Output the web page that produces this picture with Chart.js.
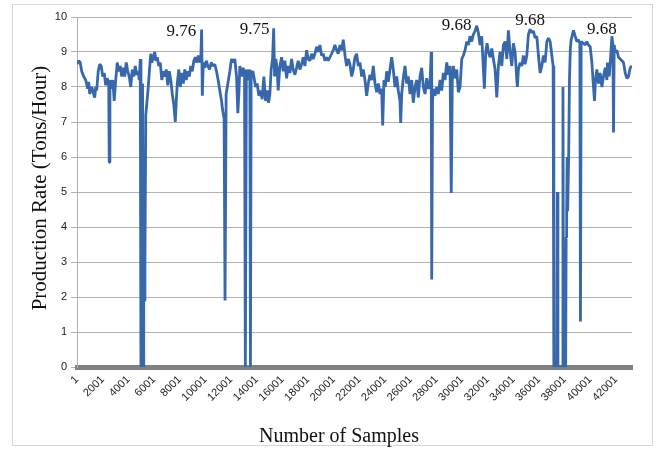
<!DOCTYPE html>
<html>
<head>
<meta charset="utf-8">
<script src="https://cdn.jsdelivr.net/npm/chart.js@4.4.1/dist/chart.umd.min.js"></script>
<style>
  html, body { margin: 0; padding: 0; background: #ffffff; }
  #wrap { position: relative; width: 657px; height: 451px; overflow: hidden; }
  #frame { position: absolute; left: 12px; top: 4px; width: 641px; height: 442px; border: 1px solid #d6d6d6; box-sizing: border-box; }
  #c { position: absolute; left: 0; top: 0; }
</style>
</head>
<body>
<div id="wrap">
  <div id="frame"></div>
  <canvas id="c" width="657" height="451"></canvas>
</div>
<script>
// ---- Data ----
const samples = [
  1,133,250,367,523,679,835,913,991,1147,1264,1381,1459,1537,1654,1771,1888,2005,2122,2239,2356,2473,2512,2566,2707,2785,2902,3019,3136,3253,3370,3487,3604,3721,3838,3955,4072,4189,4306,4423,4540,4657,4774,4852,4930,4984,5047,5109,5164,5203,5249,5296,5359,5460,5554,5671,5749,5827,5944,6061,6139,6256,6373,6490,6607,6724,6841,6958,7075,7192,7309,7426,7543,7660,7738,7816,7933,8050,8167,8284,8401,8518,8635,8752,8869,8986,9103,9220,9337,9454,9571,9649,9711,9766,9844,9961,10078,10195,
  10331,10463,10608,10741,10873,10998,11131,11263,11365,11466,11536,11622,11755,11911,12043,12168,12301,12433,12535,12613,12691,12823,12948,13057,13120,13198,13315,13432,13471,13517,13572,13705,13783,13915,14040,14173,14305,14430,14563,14695,14820,14929,15031,15132,15241,15327,15397,15499,15600,15678,15811,15943,16068,16201,16333,16458,16591,16723,16848,16981,17113,17238,17371,17503,17628,17761,17893,18018,18151,18283,18408,18541,18673,18798,18931,19063,19188,19321,19453,19578,19711,19843,19968,20101,20233,20358,20491,20623,20748,20826,20904,21013,21138,21271,
  21403,21528,21661,21793,21918,22051,22183,22308,22441,22573,22698,22831,22963,23088,23221,23353,23478,23611,23743,23821,23923,24024,24133,24258,24391,24523,24648,24781,24913,25038,25171,25225,25303,25428,25561,25693,25818,25951,26083,26208,26341,26473,26598,26731,26863,26988,27121,27253,27378,27511,27604,27643,27706,27768,27901,28033,28158,28291,28423,28548,28681,28813,28938,29071,29164,29250,29328,29461,29593,29718,29851,29983,30108,30241,30373,30498,30631,30763,30888,31021,31153,31278,31411,31543,31668,31746,31855,31957,32058,
  32191,32323,32448,32581,32713,32838,32971,33103,33228,33361,33493,33618,33751,33883,34008,34141,34273,34320,34398,34531,34663,34788,34921,35053,35178,35311,35443,35568,35701,35833,35958,36091,36223,36348,36481,36613,36738,36871,37003,37105,37159,37261,37378,37432,37479,37651,37830,37869,37916,38080,38119,38158,38197,38236,38314,38376,38446,38509,38610,38688,38821,38953,39078,39187,39234,39289,39468,39601,39733,39858,39991,40123,40248,40326,40404,40513,40638,40771,40903,41028,41161,41293,41340,41473,41574,41683,41761,41808,41863,41941,42073,42198,42331,42463,42588,42721,42853,42978,43111,43243
];
const rate = [
  8.65,8.75,8.7,8.45,8.3,8.2,7.95,8.15,7.8,8.0,7.85,7.7,8.0,7.9,8.45,8.65,8.6,8.3,8.4,8.05,8.25,8.1,5.85,8.2,7.95,8.2,7.6,8.2,8.7,8.45,8.6,8.3,8.55,8.3,8.7,8.45,8.3,8.0,8.5,8.3,8.6,8.35,8.45,8.2,8.8,0,0,8.1,0,3.05,1.9,3.0,7.2,7.6,8.0,8.6,8.95,8.7,8.85,9.0,8.75,8.85,8.6,8.7,8.2,8.45,8.3,8.5,8.05,8.45,8.2,7.8,7.5,7.0,7.6,8.1,8.5,8.0,8.4,8.1,8.5,8.2,8.45,8.3,8.6,8.45,8.75,8.85,8.7,8.9,8.7,8.8,9.64,7.75,8.7,8.55,8.75,8.6,
  8.5,8.7,8.6,8.65,8.45,8.2,7.9,7.6,7.3,7.1,1.9,7.8,8.1,8.45,8.8,8.7,8.8,8.3,7.25,7.8,8.6,8.3,8.55,8.35,0,8.5,8.2,8.5,8.3,0,8.4,8.45,8.3,8.0,8.1,7.75,7.9,7.65,8.3,7.6,7.9,7.55,7.8,8.5,8.8,9.68,8.3,8.8,8.5,7.9,8.6,8.85,8.45,8.75,8.25,8.6,8.4,8.8,8.5,8.35,8.55,8.75,8.5,8.65,8.85,8.6,9.05,8.8,8.75,8.95,8.8,8.95,9.15,9.0,9.2,8.9,8.95,8.75,8.85,8.75,8.85,8.95,9.05,9.2,9.05,8.95,9.2,9.05,9.35,9.1,8.85,8.6,8.8,8.65,
  8.3,8.5,8.85,8.95,8.6,8.7,8.3,8.5,8.2,7.75,8.1,8.35,8.2,8.6,8.1,7.85,8.1,7.8,7.95,6.9,8.2,8.0,8.45,8.15,8.5,8.85,8.5,8.0,8.3,7.9,7.6,6.97,7.8,8.25,8.6,8.1,8.3,7.8,8.2,7.55,8.0,8.2,7.7,8.3,8.55,8.0,7.8,8.25,7.95,8.1,9.0,2.5,7.6,7.95,7.75,8.0,7.8,8.2,7.9,8.4,8.2,8.7,8.35,8.6,4.97,8.3,8.6,8.25,8.5,7.85,8.0,8.8,8.9,9.05,9.3,9.2,9.45,9.3,9.5,9.6,9.75,9.55,9.2,9.45,8.5,7.95,9.0,9.25,9.0,
  8.85,9.1,8.8,8.5,7.7,8.6,9.0,8.6,9.2,9.3,8.8,9.62,9.0,8.6,9.25,9.0,8.2,8.0,8.5,8.7,8.6,8.9,8.65,8.9,9.5,9.65,9.55,9.6,9.4,9.45,8.9,8.4,8.6,8.9,8.7,9.3,9.4,9.3,8.9,8.6,0,0,0,5.0,0,0,0,8.0,0,0,3.7,4.4,6.0,4.45,6.0,8.2,9.1,9.35,9.5,9.62,9.45,9.3,9.35,9.25,1.3,9.3,9.25,9.2,9.3,9.2,9.15,8.7,8.0,7.6,8.2,8.5,8.1,8.4,8.0,8.3,8.55,8.2,8.7,8.3,8.8,9.45,9.2,6.7,9.2,9.0,9.05,8.85,8.8,8.75,8.7,8.4,8.25,8.3,8.55,8.6
];
const xTickValues = [1,2001,4001,6001,8001,10001,12001,14001,16001,18001,20001,22001,24001,26001,28001,30001,32001,34001,36001,38001,40001,42001];
const yTickValues = [0,1,2,3,4,5,6,7,8,9,10];
const peakLabels = ['9.76','9.75','9.68','9.68','9.68'];
const peakLabelSample = [8143,13837,29593,35311,40903];
const peakLabelValue = [9.58,9.63,9.77,9.91,9.63];
const xTitle = 'Number of Samples';
const yTitle = 'Production Rate (Tons/Hour)';

const points = samples.map((s, i) => ({ x: s, y: rate[i] }));

const textPlugin = {
  id: 'refTexts',
  afterDraw(chart) {
    const { ctx, scales } = chart;
    ctx.save();
    ctx.fillStyle = '#111';
    ctx.textAlign = 'center';
    ctx.textBaseline = 'middle';
    ctx.font = '17px "Liberation Serif"';
    peakLabels.forEach((t, i) => {
      ctx.fillText(t, scales.x.getPixelForValue(peakLabelSample[i]), scales.y.getPixelForValue(peakLabelValue[i]));
    });
    ctx.font = '20px "Liberation Serif"';
    ctx.fillText(xTitle, 339, 437);
    ctx.translate(40, 188);
    ctx.rotate(-Math.PI / 2);
    ctx.font = '21px "Liberation Serif"';
    ctx.fillText(yTitle, 0, 0);
    ctx.restore();
  }
};

new Chart(document.getElementById('c').getContext('2d'), {
  type: 'line',
  data: {
    datasets: [{
      data: points,
      borderColor: '#3768AB',
      borderWidth: 2.8,
      borderJoinStyle: 'bevel',
      pointRadius: 0,
      fill: false,
      tension: 0
    }]
  },
  options: {
    responsive: false,
    animation: false,
    devicePixelRatio: 1,
    layout: { padding: { top: 17, right: 25, left: 0, bottom: 0 } },
    plugins: { legend: { display: false }, tooltip: { enabled: false }, title: { display: false } },
    scales: {
      x: {
        type: 'linear',
        min: 1,
        max: 43250,
        afterBuildTicks: (axis) => { axis.ticks = xTickValues.map(v => ({ value: v })); },
        afterFit: (axis) => { axis.height = 84; },
        grid: { display: false, drawTicks: false },
        border: { display: true, color: '#808080', width: 5 },
        ticks: {
          autoSkip: false, minRotation: 45, maxRotation: 45, padding: 6,
          color: '#222', font: { family: 'Liberation Sans', size: 11 },
          callback: (v) => String(v)
        }
      },
      y: {
        min: 0,
        max: 10,
        afterBuildTicks: (axis) => { axis.ticks = yTickValues.map(v => ({ value: v })); },
        afterFit: (axis) => { axis.width = 77; },
        grid: { color: '#b2b2b2', lineWidth: 1, tickLength: 6 },
        border: { display: true, color: '#b2b2b2', width: 1 },
        ticks: { padding: 4, color: '#222', font: { family: 'Liberation Sans', size: 11 }, callback: (v) => String(v) }
      }
    }
  },
  plugins: [textPlugin]
});
</script>
</body>
</html>
